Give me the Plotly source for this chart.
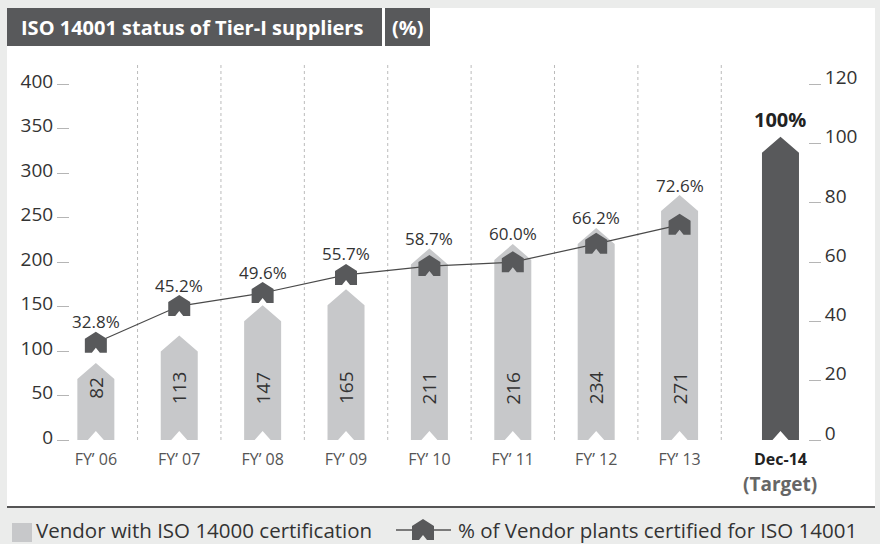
import plotly.graph_objects as go

# ---------------- data ----------------
categories = ["FY’ 06", "FY’ 07", "FY’ 08", "FY’ 09", "FY’ 10", "FY’ 11", "FY’ 12", "FY’ 13"]
vendors_certified = [82, 113, 147, 165, 211, 216, 234, 271]
pct_plants_certified = [32.8, 45.2, 49.6, 55.7, 58.7, 60.0, 66.2, 72.6]
target_label = "Dec-14"
target_sub = "(Target)"
target_pct = 100
left_ticks = [0, 50, 100, 150, 200, 250, 300, 350, 400]
right_ticks = [0, 20, 40, 60, 80, 100, 120]
title_text = "ISO 14001 status of Tier-I suppliers"
unit_text = "(%)"
legend_bar = "Vendor with ISO 14000 certification"
legend_line = "% of Vendor plants certified for ISO 14001"

# ---------------- layout geometry ----------------
W, H = 880, 544
ML, MR, MT, MB = 70, 72, 65, 104
PW, PH = W - ML - MR, H - MT - MB
XR = [-0.31, 8.54]
YL = [0, 421.8]
YR = [0, 421.8 * 0.3]
TARGET_X = 8.21
sx = PW / (XR[1] - XR[0])
sL = PH / YL[1]
sR = PH / YR[1]

LIGHT = "#c7c8ca"
DARK = "#58595b"
FONT = "Open Sans"
LEG_Y = 530


def xp(px):
    return (px - ML) / PW


def yp(py):
    return (MT + PH - py) / PH


def bar_poly(xc, val, s, hw_px=18.5, drop=16, tipoff=4, nhw=8, nh=9):
    hw = hw_px / sx
    tip = val + tipoff / s
    sh = tip - drop / s
    nw = nhw / sx
    ny = nh / s
    xs = [xc - hw, xc - hw, xc, xc + hw, xc + hw, xc + nw, xc, xc - nw, xc - hw]
    ys = [0, sh, tip, sh, 0, 0, ny, 0, 0]
    return xs, ys


MARK = [(-11, -10), (-11, 4), (0, 11), (11, 4), (11, -10), (4, -10), (0, -5), (-4, -10), (-11, -10)]


def marker_poly(xc, val):
    return [xc + dx / sx for dx, dy in MARK], [val + dy / sR for dx, dy in MARK]


xs_idx = list(range(len(categories)))

fig = go.Figure()

# bars (light)
bx, by = [], []
for i, v in zip(xs_idx, vendors_certified):
    a, b = bar_poly(i, v, sL)
    bx += a + [None]
    by += b + [None]
fig.add_trace(go.Scatter(x=bx, y=by, fill="toself", fillcolor=LIGHT, mode="lines",
                         line=dict(width=0, color=LIGHT), hoverinfo="skip", showlegend=False))

# target bar (dark) on right axis
tx, ty = bar_poly(TARGET_X, target_pct, sR, tipoff=7)
fig.add_trace(go.Scatter(x=tx, y=ty, yaxis="y2", fill="toself", fillcolor=DARK, mode="lines",
                         line=dict(width=0, color=DARK), hoverinfo="skip", showlegend=False))

# line
fig.add_trace(go.Scatter(x=xs_idx, y=pct_plants_certified, yaxis="y2", mode="lines",
                         line=dict(color="#4a4a4a", width=1.2), hoverinfo="skip", showlegend=False))

# markers
mx, my = [], []
for i, p in zip(xs_idx, pct_plants_certified):
    a, b = marker_poly(i, p)
    mx += a + [None]
    my += b + [None]
fig.add_trace(go.Scatter(x=mx, y=my, yaxis="y2", fill="toself", fillcolor=DARK, mode="lines",
                         line=dict(width=0, color=DARK), hoverinfo="skip", showlegend=False))

annotations = []
# bar value labels
for i, v in zip(xs_idx, vendors_certified):
    annotations.append(dict(x=i, y=58.5, xref="x", yref="y", text=str(v), showarrow=False,
                            textangle=-90, font=dict(family=FONT, size=19, color="#333333")))
# percent labels
for i, v, p in zip(xs_idx, vendors_certified, pct_plants_certified):
    top = max(v * sL + 4, p * sR + 11)
    annotations.append(dict(x=i, y=top / sL, xref="x", yref="y", text=f"{p:.1f}%", showarrow=False,
                            yanchor="middle", yshift=10, font=dict(family=FONT, size=17, color="#333333")))
# target label
annotations.append(dict(x=TARGET_X, y=target_pct, xref="x", yref="y2", text=f"<b>{target_pct}%</b>",
                        showarrow=False, yanchor="middle", yshift=24,
                        font=dict(family=FONT, size=20, color="#222222")))
annotations.append(dict(x=TARGET_X, y=yp(484), xref="x", yref="paper", text=f"<b>{target_sub}</b>",
                        showarrow=False, yanchor="middle",
                        font=dict(family=FONT, size=19, color="#666666")))
# title
annotations.append(dict(x=xp(19), y=yp(27), xref="paper", yref="paper", text=f"<b>{title_text}</b>",
                        showarrow=False, xanchor="left", yanchor="middle",
                        font=dict(family=FONT, size=20, color="white")))
annotations.append(dict(x=xp(407.5), y=yp(27), xref="paper", yref="paper", text=f"<b>{unit_text}</b>",
                        showarrow=False, xanchor="center", yanchor="middle",
                        font=dict(family=FONT, size=20, color="white")))
# legend texts
annotations.append(dict(x=xp(35), y=yp(LEG_Y), xref="paper", yref="paper", text=legend_bar,
                        showarrow=False, xanchor="left", yanchor="middle", borderpad=0,
                        font=dict(family=FONT, size=20.5, color="#333333")))
annotations.append(dict(x=xp(457), y=yp(LEG_Y), xref="paper", yref="paper", text=legend_line,
                        showarrow=False, xanchor="left", yanchor="middle", borderpad=0,
                        font=dict(family=FONT, size=20.5, color="#333333")))

shapes = []
# white panel
shapes.append(dict(type="rect", xref="paper", yref="paper", x0=xp(7), x1=xp(875), y0=yp(8), y1=yp(507),
                   fillcolor="white", line=dict(width=0), layer="below"))
# bottom separator
shapes.append(dict(type="line", xref="paper", yref="paper", x0=xp(7), x1=xp(875), y0=yp(507), y1=yp(507),
                   line=dict(color="#555555", width=2)))
# title boxes
shapes.append(dict(type="rect", xref="paper", yref="paper", x0=xp(7), x1=xp(382), y0=yp(8), y1=yp(46),
                   fillcolor=DARK, line=dict(width=0), layer="below"))
shapes.append(dict(type="rect", xref="paper", yref="paper", x0=xp(385), x1=xp(430), y0=yp(8), y1=yp(46),
                   fillcolor=DARK, line=dict(width=0), layer="below"))
# dotted separators
for k in range(len(categories)):
    shapes.append(dict(type="line", xref="x", yref="paper", x0=k + 0.5, x1=k + 0.5, y0=0, y1=1,
                       line=dict(color="#bbbbbb", width=1, dash="dot"), layer="below"))
# legend square
shapes.append(dict(type="rect", xref="paper", yref="paper", x0=xp(12), x1=xp(32), y0=yp(LEG_Y - 7), y1=yp(LEG_Y + 12),
                   fillcolor=LIGHT, line=dict(width=0)))
# legend line + marker
shapes.append(dict(type="line", xref="paper", yref="paper", x0=xp(396), x1=xp(451), y0=yp(LEG_Y), y1=yp(LEG_Y),
                   line=dict(color="#555555", width=1.5)))
path = "M " + " L ".join(f"{xp(423 + dx):.5f},{yp(LEG_Y - dy):.5f}" for dx, dy in MARK) + " Z"
shapes.append(dict(type="path", xref="paper", yref="paper", path=path, fillcolor=DARK, line=dict(width=0)))

fig.update_layout(
    width=W, height=H,
    margin=dict(l=ML, r=MR, t=MT, b=MB, pad=0),
    paper_bgcolor="#ebeceb", plot_bgcolor="rgba(0,0,0,0)",
    font=dict(family=FONT, color="#333333"),
    showlegend=False,
    xaxis=dict(range=XR, showgrid=False, zeroline=False, showline=False, ticks="",
               tickvals=xs_idx + [TARGET_X], ticklabelstandoff=8, automargin=False,
               ticktext=categories + [f"<b><span style='color:#222222;font-size:16px'>{target_label}</span></b>"],
               tickfont=dict(family=FONT, size=16, color="#555555"), fixedrange=True),
    yaxis=dict(range=YL, tickvals=left_ticks, showgrid=False, zeroline=False, showline=False,
               ticks="outside", ticklen=12, tickcolor="#b5b5b5", tickwidth=1, ticklabelshift=-3,
               automargin=False,
               tickfont=dict(family=FONT, size=19, color="#333333"), fixedrange=True),
    yaxis2=dict(range=YR, tickvals=right_ticks, overlaying="y", side="right", showgrid=False,
                zeroline=False, showline=False, ticks="outside", ticklen=12, tickcolor="#b5b5b5",
                tickwidth=1, ticklabelshift=-7, automargin=False,
                tickfont=dict(family=FONT, size=19, color="#333333"), fixedrange=True),
    annotations=annotations,
    shapes=shapes,
)

fig.write_html("out.html", config={"displayModeBar": False},
               post_script="document.body.style.margin='0';document.body.style.overflow='hidden';")
